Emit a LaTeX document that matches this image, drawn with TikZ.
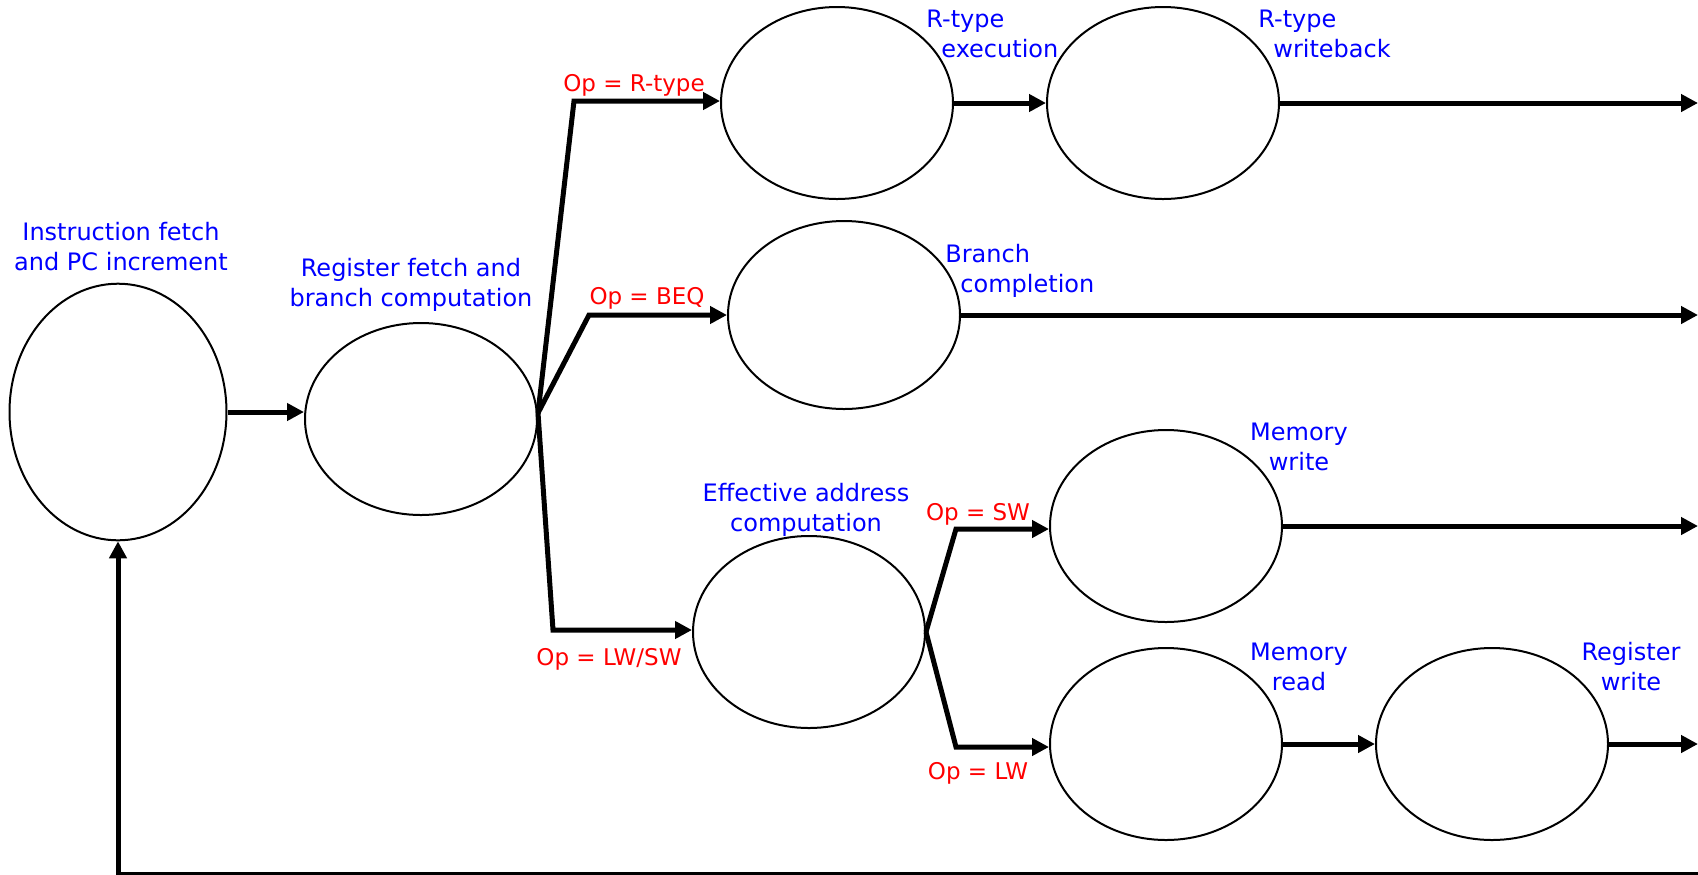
\documentclass[tikz,border=0pt]{standalone}
\usepackage{fontspec}
\setmainfont{DejaVu Sans}
\usetikzlibrary{shapes.geometric, arrows.meta, positioning, calc}

\tikzset{
  stage/.style={draw, ellipse, line width=1pt, inner sep=0pt, minimum width=116pt, minimum height=96pt},
  flow/.style={line width=2.5pt, -{Triangle[length=8.5pt,width=8.5pt]}},
  stagename/.style={blue, inner sep=0pt, font=\fontsize{12}{15}\selectfont},
  cond/.style={red, inner sep=0pt, font=\fontsize{11.5}{14}\selectfont},
}

\begin{document}
\begin{tikzpicture}[x=0.5pt, y=-0.5pt]
\useasboundingbox (0,0) rectangle (1698,874);
% states
\node[stage, minimum width=108.5pt, minimum height=128.3pt] (fetch) at (118,412) {};
\node[stage] (decode) at (421,419) {};
\node[stage] (rexec) at (837,103) {};
\node[stage] (rwb) at (1163,103) {};
\node[stage, minimum height=94pt] (brc) at (844,315) {};
\node[stage] (addr) at (809,632) {};
\node[stage] (memw) at (1166,526) {};
\node[stage] (memr) at (1166,744) {};
\node[stage] (regw) at (1492,744) {};
% state names
\node[stagename, align=center] (lfetch) at (121,247) {Instruction fetch\\and PC increment};
\node[stagename, align=center] (ldecode) at (411,285) {Register fetch and\\branch computation};
\node[stagename, align=left, anchor=west] (lrexec) at (926,34) {R-type\\\hspace*{7.5pt}execution};
\node[stagename, align=left, anchor=west] (lrwb) at (1258,34) {R-type\\\hspace*{7.5pt}writeback};
\node[stagename, align=left, anchor=west] (lbrc) at (945,271) {Branch\\\hspace*{7.5pt}completion};
\node[stagename, align=center] (laddr) at (806,510) {Effective address\\computation};
\node[stagename, align=center] (lmemw) at (1299,447) {Memory\\write};
\node[stagename, align=center] (lmemr) at (1299,667) {Memory\\read};
\node[stagename, align=center] (lregw) at (1631,667) {Register\\write};
% conditions
\node[cond] (crtype) at (634,85) {Op = R-type};
\node[cond] (cbeq) at (647,298) {Op = BEQ};
\node[cond] (clwsw) at (609,659) {Op = LW/SW};
\node[cond] (csw) at (978,514) {Op = SW};
\node[cond] (clw) at (978,773) {Op = LW};
% fetch to decode
\draw[flow] (fetch.east) -- (fetch.east -| decode.west);
% decode branches
\coordinate (fk1) at ([yshift=3pt]decode.east);
\coordinate (cr) at (574,101);
\coordinate (cb) at (589,315);
\coordinate (cl) at (553,630);
\draw[flow] (fk1) -- (cr) -- (cr -| rexec.west);
\draw[flow] (fk1) -- (cb) -- (cb -| brc.west);
\draw[flow] (fk1) -- (cl) -- (cl -| addr.west);
% address branches
\coordinate (cs) at (956,529);
\coordinate (cw) at (956,747);
\draw[flow] (addr.east) -- (cs) -- (cs -| memw.west);
\draw[flow] (addr.east) -- (cw) -- (cw -| memr.west);
% rows
\coordinate (o1) at (1698,103);
\coordinate (o2) at (1698,315);
\coordinate (o3) at (1698,526);
\coordinate (o4) at (1698,744);
\draw[flow] (rexec) -- (rwb);
\draw[flow] (rwb) -- (o1);
\draw[flow] (brc) -- (o2);
\draw[flow] (memw) -- (o3);
\draw[flow] (memr) -- (regw);
\draw[flow] (regw) -- (o4);
% back to fetch
\coordinate (fbr) at (1698,874);
\coordinate (fbl) at (fetch.south |- fbr);
\draw[flow] (fbr) -- (fbl) -- (fetch.south);
\end{tikzpicture}
\end{document}
